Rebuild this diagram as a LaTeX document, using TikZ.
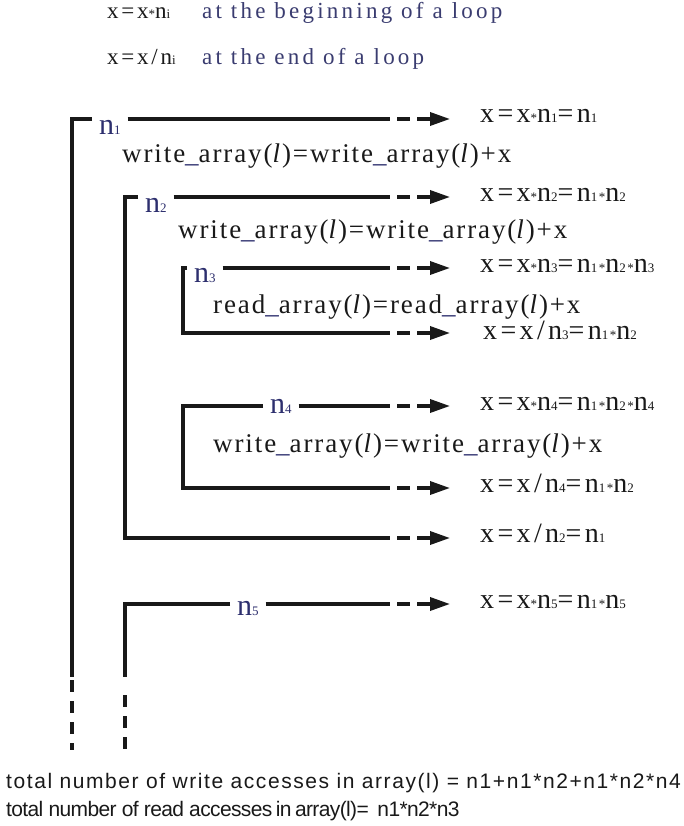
\documentclass[tikz,border=0pt]{standalone}
\usepackage{fontspec}
\setmainfont{Liberation Serif}
\newfontfamily\headf[LetterSpace=14]{Liberation Serif}
\newfontfamily\bodyf[LetterSpace=7]{Liberation Serif}
\newfontfamily\labf[LetterSpace=12]{Liberation Serif}
\newfontfamily\sansf[LetterSpace=7.5]{Liberation Sans}
\newfontfamily\sansg[LetterSpace=-3]{Liberation Sans}
\usetikzlibrary{arrows.meta}
\definecolor{nblue}{RGB}{45,47,110}
\definecolor{hblue}{RGB}{58,60,112}
\definecolor{ink}{RGB}{25,25,25}
\newcommand\lo[1]{{\fontsize{13}{13}\selectfont #1}}
\newcommand\stx{{\fontsize{13}{13}\selectfont *}}
\newcommand\us{\textcolor{nblue}{\_}}
\newcommand\il{\textit{l}}
\tikzset{
  ln/.style={draw=ink, line width=3.4pt, line cap=butt, line join=miter},
  dsh/.style={ln, dash pattern=on 13pt off 7pt, dash phase=13pt,
     -{Triangle[length=20pt,width=13pt]}},
  vdsh/.style={ln, dash pattern=on 12pt off 9pt},
  nlab/.style={text=nblue, font=\fontsize{30}{30}\selectfont, anchor=base west, inner sep=0pt, outer xsep=7pt},
  lab/.style={text=ink, font=\labf\fontsize{28}{28}\selectfont, anchor=base west, inner sep=0pt},
  body/.style={text=ink, font=\bodyf\fontsize{27}{27}\selectfont, anchor=base west, inner sep=0pt},
  headx/.style={text=ink, font=\labf\fontsize{23}{23}\selectfont, anchor=base west, inner sep=0pt},
  headt/.style={text=hblue, font=\headf\fontsize{23}{23}\selectfont, anchor=base west, inner sep=0pt},
  foot/.style={text=ink, font=\sansf\fontsize{21}{21}\selectfont, anchor=base west, inner sep=0pt},
  footb/.style={text=ink, font=\sansg\fontsize{21}{21}\selectfont, anchor=base west, inner sep=0pt},
}
\begin{document}
\begin{tikzpicture}[x=1pt,y=-1pt]
\useasboundingbox[fill=white] (0,0) rectangle (683,826);

% header
\node[headx] (hx1) at (107,19) {x=x\stx n\lo{i}};
\node[headt] (ht1) at (202,19) {at the beginning of a loop};
\node[headx] (hx2) at (107,65) {x=x/n\lo{i}};
\node[headt] (ht2) at (202,65) {at the end of a loop};

% loop 1
\coordinate (c1) at (72,119);
\coordinate (c1b) at (72,677);
\coordinate (c1d) at (72,680);
\coordinate (c1e) at (72,750);
\node[nlab] (n1) at (92,135) {n\lo{1}};
\coordinate (s1) at (390,119);
\coordinate (h1) at (450,119);
\draw[ln] (c1 -| n1.west) -- (c1) -- (c1b);
\draw[vdsh] (c1d) -- (c1e);
\draw[ln] (n1.east |- c1) -- (s1);
\draw[dsh] (s1) -- (h1);
\node[lab] (t1) at (480,123) {x=x\stx n\lo{1}=n\lo{1}};
\node[body] (b1) at (122,163) {write\us array(\il)=write\us array(\il)+x};

% loop 2
\coordinate (c2) at (125,197);
\coordinate (c2b) at (125,538);
\node[nlab] (n2) at (138,212) {n\lo{2}};
\coordinate (s2) at (390,197);
\coordinate (h2) at (450,197);
\coordinate (s2b) at (390,538);
\coordinate (h2b) at (450,538);
\draw[ln] (c2 -| n2.west) -- (c2) -- (c2b) -- (s2b);
\draw[ln] (n2.east |- c2) -- (s2);
\draw[dsh] (s2) -- (h2);
\draw[dsh] (s2b) -- (h2b);
\node[lab] (t2) at (480,202) {x=x\stx n\lo{2}=n\lo{1}\stx n\lo{2}};
\node[lab] (t2b) at (480,542) {x=x/n\lo{2}=n\lo{1}};
\node[body] (b2) at (178,238) {write\us array(\il)=write\us array(\il)+x};

% loop 3
\coordinate (c3) at (183,268);
\coordinate (c3b) at (183,333);
\node[nlab] (n3) at (187,282) {n\lo{3}};
\coordinate (s3) at (390,268);
\coordinate (h3) at (450,268);
\coordinate (s3b) at (390,333);
\coordinate (h3b) at (450,333);
\draw[ln] (c3 -| n3.west) -- (c3) -- (c3b) -- (s3b);
\draw[ln] (n3.east |- c3) -- (s3);
\draw[dsh] (s3) -- (h3);
\draw[dsh] (s3b) -- (h3b);
\node[lab] (t3) at (480,272) {x=x\stx n\lo{3}=n\lo{1}\stx n\lo{2}\stx n\lo{3}};
\node[lab] (t3b) at (483,339) {x=x/n\lo{3}=n\lo{1}\stx n\lo{2}};
\node[body] (b3) at (213,313) {read\us array(\il)=read\us array(\il)+x};

% loop 4
\coordinate (c4) at (183,406);
\coordinate (c4b) at (183,488);
\node[nlab] (n4) at (263,413) {n\lo{4}};
\coordinate (s4) at (390,406);
\coordinate (h4) at (450,406);
\coordinate (s4b) at (390,488);
\coordinate (h4b) at (450,488);
\draw[ln] (n4.west |- c4) -- (c4) -- (c4b) -- (s4b);
\draw[ln] (n4.east |- c4) -- (s4);
\draw[dsh] (s4) -- (h4);
\draw[dsh] (s4b) -- (h4b);
\node[lab] (t4) at (480,410) {x=x\stx n\lo{4}=n\lo{1}\stx n\lo{2}\stx n\lo{4}};
\node[lab] (t4b) at (480,492) {x=x/n\lo{4}=n\lo{1}\stx n\lo{2}};
\node[body] (b4) at (213,452) {write\us array(\il)=write\us array(\il)+x};

% loop 5
\coordinate (c5) at (125,604);
\coordinate (c5b) at (125,677);
\coordinate (c5d) at (125,695);
\coordinate (c5e) at (125,750);
\node[nlab] (n5) at (230,615) {n\lo{5}};
\coordinate (s5) at (390,604);
\coordinate (h5) at (450,604);
\draw[ln] (n5.west |- c5) -- (c5) -- (c5b);
\draw[vdsh] (c5d) -- (c5e);
\draw[ln] (n5.east |- c5) -- (s5);
\draw[dsh] (s5) -- (h5);
\node[lab] (t5) at (480,608) {x=x\stx n\lo{5}=n\lo{1}\stx n\lo{5}};

% footer
\node[foot] (f1) at (6,788) {total number of write accesses in array(l) = n1+n1*n2+n1*n2*n4};
\node[footb] (f2) at (6,816) {total number of read accesses\,in\,array(l)=\, n1*n2*n3};
\end{tikzpicture}
\end{document}
